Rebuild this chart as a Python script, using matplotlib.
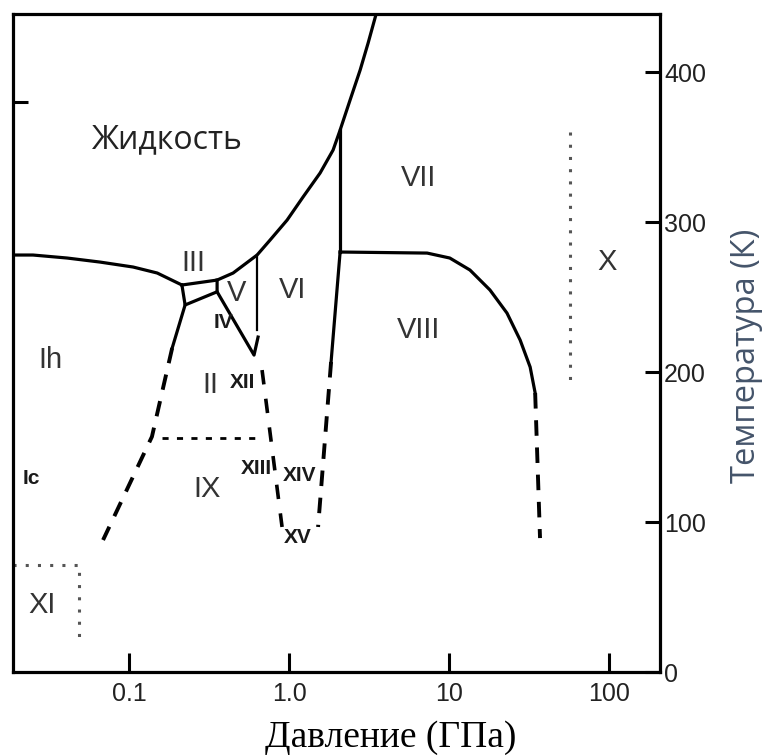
import matplotlib
matplotlib.use('Agg')
import matplotlib.pyplot as plt
from matplotlib.ticker import FixedLocator, FixedFormatter, NullLocator

# фазовая диаграмма воды: давление (ГПа), температура (К)
ih_liq_p = [0.0187, 0.0251, 0.041, 0.0659, 0.106, 0.150, 0.214]
ih_liq_t = [278, 278, 276, 273.3, 270, 266, 258]

melt_p = [0.214, 0.355, 0.447, 0.631, 0.761, 0.972, 1.223, 1.563, 1.884, 2.084,
          2.405, 2.78, 3.118, 3.5]
melt_t = [258, 261.3, 266, 278, 288, 301.3, 316.7, 332.7, 348, 361.3,
          381.3, 401.3, 419.3, 438.7]

iii_box_p = [0.214, 0.224, 0.355, 0.355]
iii_box_t = [258, 244.7, 253.5, 261.3]

ih_ii_p = [0.224, 0.186]
ih_ii_t = [244.7, 216]
ih_ix_p = [0.186, 0.139, 0.0688]
ih_ix_t = [216, 156.9, 88]

ii_v_p = [0.355, 0.604, 0.640]
ii_v_t = [253.5, 211.3, 223.3]
v_vi_p = [0.631, 0.631]
v_vi_t = [278, 228]

vi_vii_p = [2.084, 2.084]
vi_vii_t = [361.3, 280]
vii_viii_p = [2.084, 7.29, 10.1, 13.5, 18.0, 23.0, 27.8, 32.1, 34.5]
vii_viii_t = [280, 279.3, 276, 268, 254.7, 239.3, 221.3, 203.3, 186]
viii_x_p = [34.5, 37.0]
viii_x_t = [186, 89.3]

vi_viii_p = [2.084, 1.83]
vi_viii_t = [280, 206.7]
vi_xv_p = [1.83, 1.518]
vi_xv_t = [206.7, 96.7]

xii_p = [0.678, 0.904]
xii_t = [201.3, 96.7]

ii_ix_p = [0.161, 0.64]
ii_ix_t = [156, 156]

xi_p = [0.0187, 0.0487, 0.0487]
xi_t = [71.3, 71.3, 22.7]

x_p = [57, 57]
x_t = [360, 189.3]

# подписи фаз
big_names = ['III', 'V', 'VI', 'Ih', 'II', 'IX', 'XI', 'VII', 'VIII', 'X']
big_p = [0.251, 0.473, 1.059, 0.0321, 0.321, 0.307, 0.0286, 6.4, 6.4, 97.2]
big_t = [272.7, 252.7, 254.7, 208, 191.3, 122, 44.7, 329.3, 228, 273.3]

small_names = ['IV', 'XII', 'Ic', 'XIII', 'XIV', 'XV']
small_p = [0.387, 0.508, 0.0244, 0.622, 1.17, 1.14]
small_t = [233.3, 193.3, 129.3, 136, 130.7, 90]

x_ticks = [0.1, 1.0, 10, 100]
x_tick_labels = ['0.1', '1.0', '10', '100']
y_ticks = [0, 100, 200, 300, 400]

fig = plt.figure(figsize=(7.64, 7.56), dpi=100)
ax = fig.add_axes([0.0164, 0.1111, 0.8475, 0.8704])

lw = 2.3
dash = (0, (4, 3))
ax.plot(ih_liq_p, ih_liq_t, color='black', lw=lw)
ax.plot(melt_p, melt_t, color='black', lw=lw)
ax.plot(iii_box_p, iii_box_t, color='black', lw=lw)
ax.plot(ih_ii_p, ih_ii_t, color='black', lw=lw)
ax.plot(ih_ix_p, ih_ix_t, color='black', lw=2.8, ls=dash)
ax.plot(ii_v_p, ii_v_t, color='black', lw=lw)
ax.plot(v_vi_p, v_vi_t, color='black', lw=1.6)
ax.plot(vi_vii_p, vi_vii_t, color='black', lw=lw)
ax.plot(vii_viii_p, vii_viii_t, color='black', lw=lw)
ax.plot(viii_x_p, viii_x_t, color='black', lw=2.8, ls=dash)
ax.plot(vi_viii_p, vi_viii_t, color='black', lw=lw)
ax.plot(vi_xv_p, vi_xv_t, color='black', lw=2.8, ls=dash)
ax.plot(xii_p, xii_t, color='black', lw=2.6, ls=(0, (4, 4)))
ax.plot(ii_ix_p, ii_ix_t, color='black', lw=2.0, ls=(0, (2.2, 3)))
ax.plot(xi_p, xi_t, color='#555555', lw=2.2, ls=(0, (1, 3)))
ax.plot(x_p, x_t, color='#555555', lw=2.2, ls=(0, (1, 3)))

for name, p, t in zip(big_names, big_p, big_t):
    ax.text(p, t, name, ha='center', va='center', fontsize=21,
            family='Liberation Sans', color='#333333')
for name, p, t in zip(small_names, small_p, small_t):
    ax.text(p, t, name, ha='center', va='center', fontsize=15, fontweight='bold',
            family=['Liberation Sans Narrow', 'Liberation Sans'], color='#1a1a1a')

ax.text(0.173, 354.7, 'Жидкость', ha='center', va='center', fontsize=23,
        family='Open Sans', color='#222222')

ax.set_xscale('log')
ax.set_xlim(0.0187, 208)
ax.set_ylim(0, 438.7)

ax.xaxis.set_major_locator(FixedLocator(x_ticks))
ax.xaxis.set_major_formatter(FixedFormatter(x_tick_labels))
ax.xaxis.set_minor_locator(NullLocator())
ax.yaxis.tick_right()
ax.yaxis.set_label_position('right')
ax.yaxis.set_major_locator(FixedLocator(y_ticks))

ax.tick_params(axis='x', direction='in', length=14, width=2.2, pad=7,
               labelsize=18, labelcolor='#222222')
ax.tick_params(axis='y', direction='in', length=11, width=2.2, pad=3,
               labelsize=18, labelcolor='#222222')
for lab in ax.get_xticklabels() + ax.get_yticklabels():
    lab.set_family('Liberation Sans')

for s in ax.spines.values():
    s.set_linewidth(2.3)

# одиночная засечка на левой оси
left = ax.secondary_yaxis('left')
left.yaxis.set_major_locator(FixedLocator([380]))
left.tick_params(direction='in', length=11, width=2.2, labelleft=False)
left.spines['left'].set_visible(False)

ax.set_xlabel('Давление (ГПа)', fontsize=27, family='Liberation Serif',
              va='center')
ax.xaxis.set_label_coords(0.5846, -0.100)
ax.set_ylabel('Температура (К)', fontsize=23.5, family='Open Sans',
              color='#44546A', va='center')
ax.yaxis.set_label_coords(1.133, 0.48)

fig.savefig('out.png', dpi=100)
